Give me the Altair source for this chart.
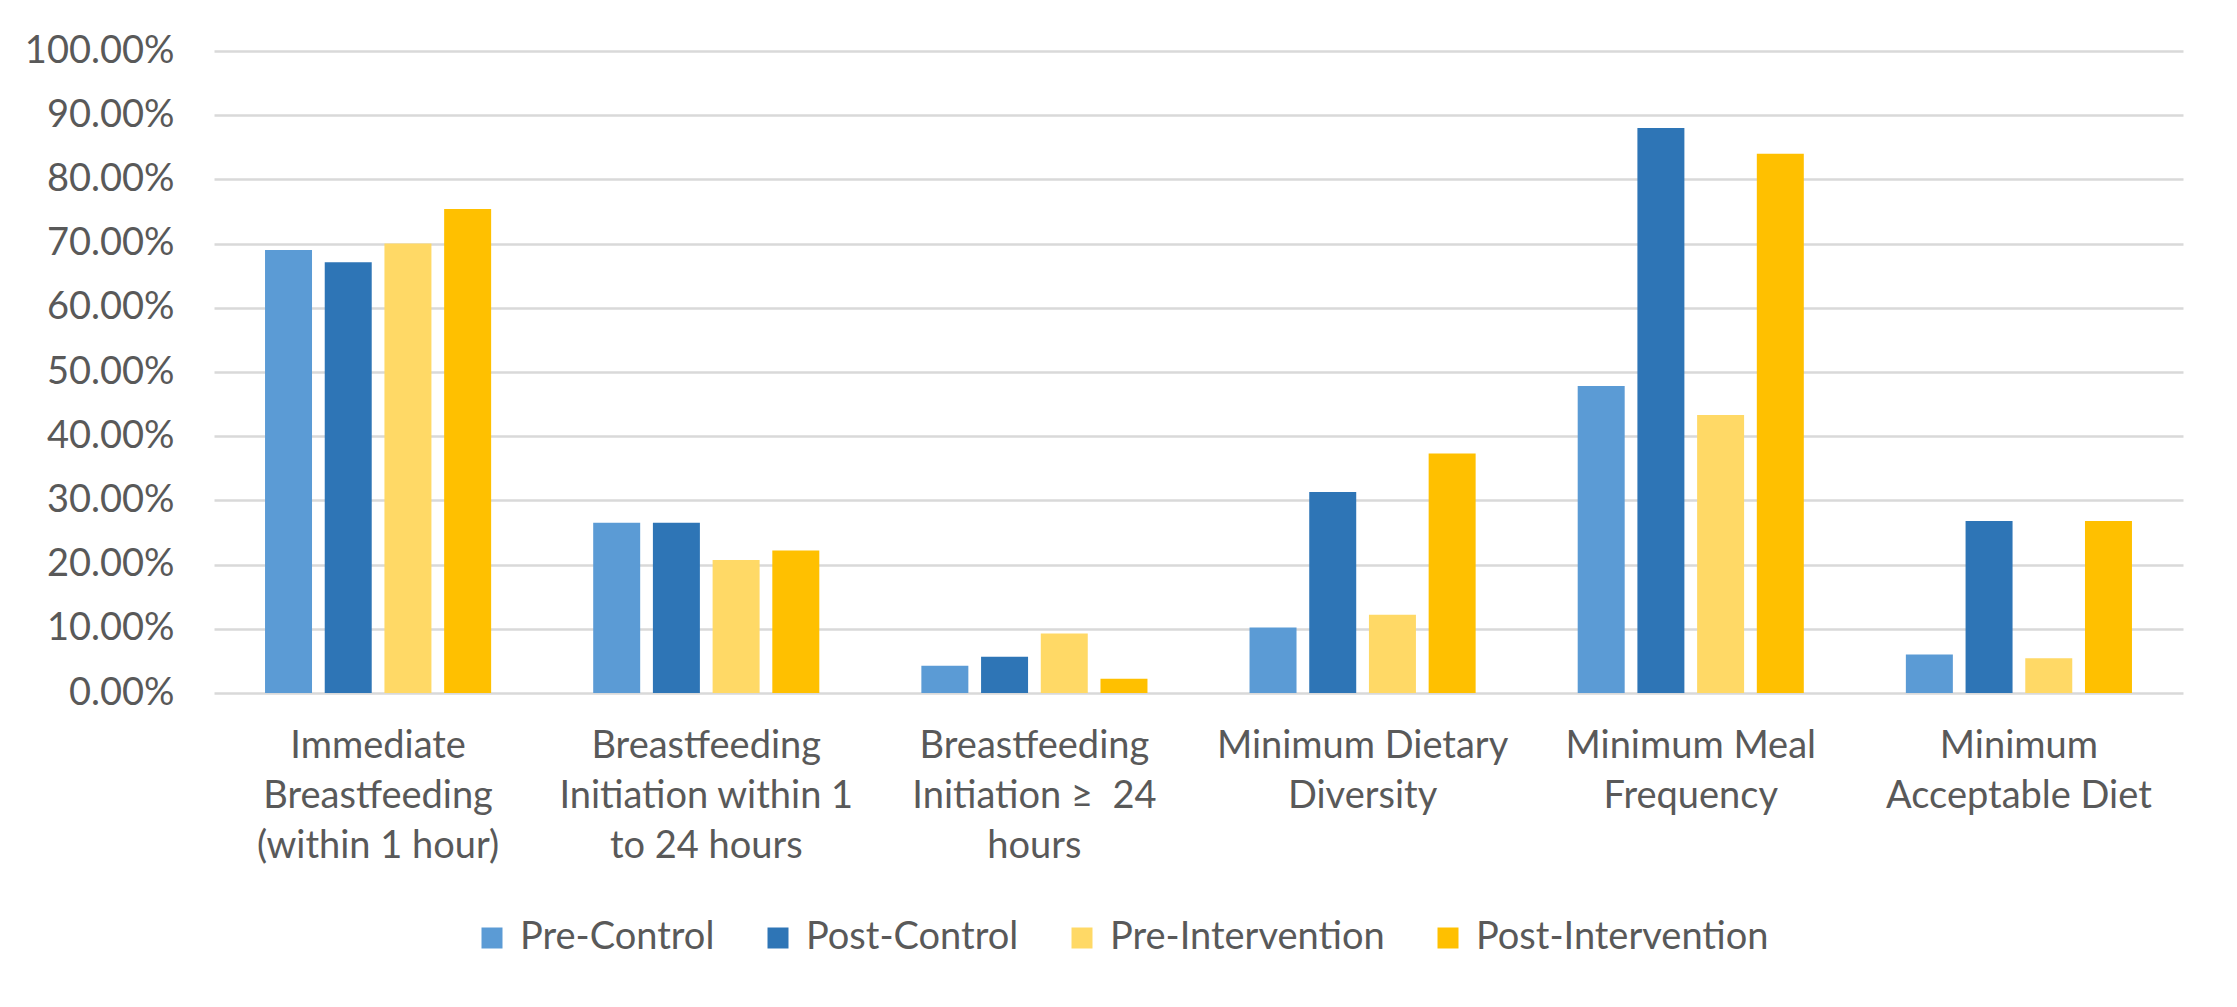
import altair as alt
import pandas as pd

categories = [
    "Immediate\nBreastfeeding\n(within 1 hour)",
    "Breastfeeding\nInitiation within 1\nto 24 hours",
    "Breastfeeding\nInitiation \u2265\u00a0 24\nhours",
    "Minimum Dietary\nDiversity",
    "Minimum Meal\nFrequency",
    "Minimum\nAcceptable Diet",
]
series = ["Pre-Control", "Post-Control", "Pre-Intervention", "Post-Intervention"]
colors = ["#5B9BD5", "#2E75B6", "#FFD966", "#FFC000"]

pre_control = [0.690, 0.265, 0.0425, 0.102, 0.478, 0.060]
post_control = [0.671, 0.265, 0.0565, 0.313, 0.880, 0.268]
pre_intervention = [0.700, 0.207, 0.0925, 0.122, 0.433, 0.054]
post_intervention = [0.754, 0.222, 0.0223, 0.373, 0.840, 0.268]

values = [pre_control, post_control, pre_intervention, post_intervention]
rows = []
for s, vals in zip(series, values):
    for c, v in zip(categories, vals):
        rows.append({"category": c, "series": s, "value": v})
df = pd.DataFrame(rows)

FONT = "Lato"
TXT = "#595959"
GRID = "#D9D9D9"

bars = alt.Chart(df).mark_bar().encode(
    x=alt.X(
        "category:N",
        sort=categories,
        title=None,
        scale=alt.Scale(paddingInner=0.311, paddingOuter=0.1555),
        axis=alt.Axis(
            labelAngle=0,
            labelExpr="split(datum.label, '\\n')",
            labelFont=FONT,
            labelFontSize=38,
            labelColor=TXT,
            labelLineHeight=50,
            labelPadding=34,
            labelLimit=400,
            ticks=False,
            domain=False,
            grid=False,
        ),
    ),
    xOffset=alt.XOffset(
        "series:N",
        sort=series,
        scale=alt.Scale(paddingInner=0.213, paddingOuter=0),
    ),
    y=alt.Y(
        "value:Q",
        title=None,
        scale=alt.Scale(domain=[0, 1], nice=False),
        axis=alt.Axis(
            values=[i / 10 for i in range(11)],
            format=".2%",
            labelFont=FONT,
            labelFontSize=38,
            labelColor=TXT,
            labelPadding=40,
            ticks=False,
            domain=False,
            gridColor=GRID,
            gridWidth=2.6,
        ),
    ),
    color=alt.Color(
        "series:N",
        sort=series,
        scale=alt.Scale(domain=series, range=colors),
        legend=alt.Legend(
            title=None,
            orient="none",
            direction="horizontal",
            legendX=259,
            legendY=868,
            symbolType="square",
            symbolSize=441,
            symbolStrokeWidth=0,
            labelFont=FONT,
            labelFontSize=38,
            labelColor=TXT,
            labelOffset=9,
            columnPadding=44,
            labelLimit=500,
        ),
    ),
)

chart = bars.properties(
    width=1969,
    height=642,
    autosize=alt.AutoSizeParams(type="none"),
    padding={"left": 206, "top": 43, "right": 40, "bottom": 300},
).configure(background="white").configure_view(stroke=None)

chart.save("out.html", embed_options={"renderer": "svg", "actions": False})
